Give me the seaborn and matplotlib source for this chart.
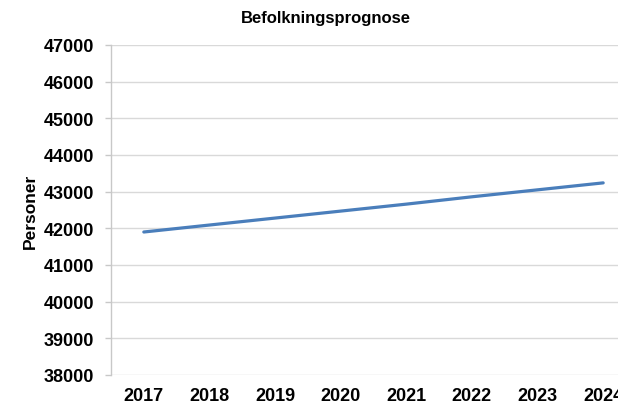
import matplotlib
matplotlib.use("Agg")
import matplotlib.pyplot as plt
import seaborn as sns
import pandas as pd

# data
years = ["2017", "2018", "2019", "2020", "2021", "2022", "2023", "2024"]
personer = [41900, 42090, 42280, 42470, 42660, 42860, 43050, 43240]
yticks = [38000, 39000, 40000, 41000, 42000, 43000, 44000, 45000, 46000, 47000]

df = pd.DataFrame({"year": years, "personer": personer})

sns.set_style("white")
plt.rcParams["font.family"] = ["Liberation Sans", "DejaVu Sans"]
plt.rcParams["font.weight"] = "bold"
plt.rcParams["text.color"] = "black"
plt.rcParams["xtick.color"] = "black"
plt.rcParams["ytick.color"] = "black"

fig = plt.figure(figsize=(6.18, 4.06), dpi=100)
# plot area runs past the right edge, like the cropped original
ax = fig.add_axes([111 / 618, 30 / 406, 525 / 618, 330 / 406])

sns.lineplot(data=df, x="year", y="personer", sort=False, color="#4A7EBB",
             linewidth=2.3, ax=ax)

ax.set_xlim(-0.5, len(years) - 0.5)
ax.set_ylim(yticks[0], yticks[-1])
ax.set_yticks(yticks)
ax.set_yticklabels([str(v) for v in yticks])
ax.grid(axis="y", color="#D9D9D9", linewidth=1)
ax.set_axisbelow(True)

for side in ["top", "right", "bottom"]:
    ax.spines[side].set_visible(False)
ax.spines["left"].set_color("#C8C8C8")
ax.spines["left"].set_linewidth(1)

ax.tick_params(axis="y", left=True, length=4.3, width=1, color="#C8C8C8",
               labelcolor="black", pad=8, labelsize=13)
ax.tick_params(axis="x", bottom=False, length=0, pad=9, labelcolor="black",
               labelsize=13)
for lab in ax.get_xticklabels() + ax.get_yticklabels():
    lab.set_fontweight("bold")

ax.set_xlabel("")
ax.set_ylabel("Personer", fontsize=12.5, fontweight="bold", labelpad=4,
              color="black")

fig.text(326 / 618, 1 - 18 / 406, "Befolkningsprognose", ha="center",
         va="center", fontsize=12, fontweight="bold", color="black")

fig.savefig("out.png", dpi=100)
